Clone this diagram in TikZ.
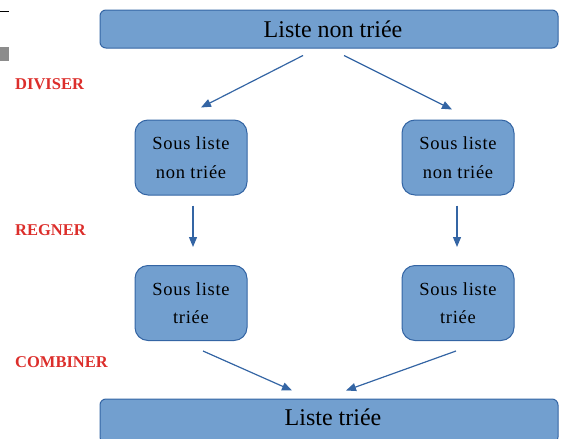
\documentclass[tikz,border=0pt]{standalone}
\usepackage{fontspec}
\setmainfont{Liberation Serif}
\usetikzlibrary{arrows.meta}
\definecolor{boxfill}{HTML}{729FCF}
\definecolor{boxline}{HTML}{3465A4}
\definecolor{lblred}{HTML}{DC2E2B}
\tikzset{
  bigbox/.style={draw=boxline, fill=boxfill, line width=1pt, rounded corners=6pt, minimum width=458pt, minimum height=38pt, inner sep=0pt, font=\fontsize{24}{28}\selectfont},
  smallbox/.style={draw=boxline, fill=boxfill, line width=1pt, rounded corners=13pt, minimum width=112pt, minimum height=75pt, inner sep=0pt, align=center, font=\fontsize{18.5}{28.5}\selectfont\addfontfeature{LetterSpace=4}},
  arr/.style={draw=boxline, line width=1.2pt, -{Triangle[length=10pt,width=8pt]}},
  lbl/.style={text=lblred, font=\fontsize{16.5}{18}\selectfont\bfseries, anchor=west, inner sep=0pt}
}
\begin{document}
\begin{tikzpicture}[x=1pt,y=-1pt]
\useasboundingbox (0,0) rectangle (565,439);
% top-left artifacts
\draw[line width=0.8pt] (0,11) -- (9,11);
\fill[gray!90] (0,47) rectangle (9,61);
% boxes
\node[bigbox] (top) at (329,29) {\hspace*{8pt}Liste non triée};
\node[bigbox, minimum height=44pt] (bot) at (329,421) {};
\node[font=\fontsize{24}{28}\selectfont, inner sep=0pt] (bottxt) at (333,417) {Liste triée};
\node[smallbox] (l1) at (191,157.5) {Sous liste\\non triée};
\node[smallbox] (r1) at (458,157.5) {Sous liste\\non triée};
\node[smallbox] (l2) at (191,303) {Sous liste\\triée};
\node[smallbox] (r2) at (458,303) {Sous liste\\triée};
% labels
\node[lbl] (div) at (15,84) {DIVISER};
\node[lbl] (reg) at (15,230) {REGNER};
\node[lbl] (comb) at (15,362) {COMBINER};
% arrows
\draw[arr] ([xshift=-26pt,yshift=-7pt]top.south) -- ([xshift=10pt,yshift=12pt]l1.north);
\draw[arr] ([xshift=15pt,yshift=-7pt]top.south) -- ([xshift=-6pt,yshift=10pt]r1.north);
\draw[arr] ([xshift=2pt,yshift=-10pt]l1.south) -- ([xshift=2pt,yshift=18pt]l2.north);
\draw[arr] ([xshift=-1pt,yshift=-10pt]r1.south) -- ([xshift=-1pt,yshift=18pt]r2.north);
\draw[arr] ([xshift=12pt,yshift=-10pt]l2.south) -- ([xshift=-37pt,yshift=8pt]bot.north);
\draw[arr] ([xshift=-2pt,yshift=-10pt]r2.south) -- ([xshift=17pt,yshift=8pt]bot.north);
\end{tikzpicture}
\end{document}
